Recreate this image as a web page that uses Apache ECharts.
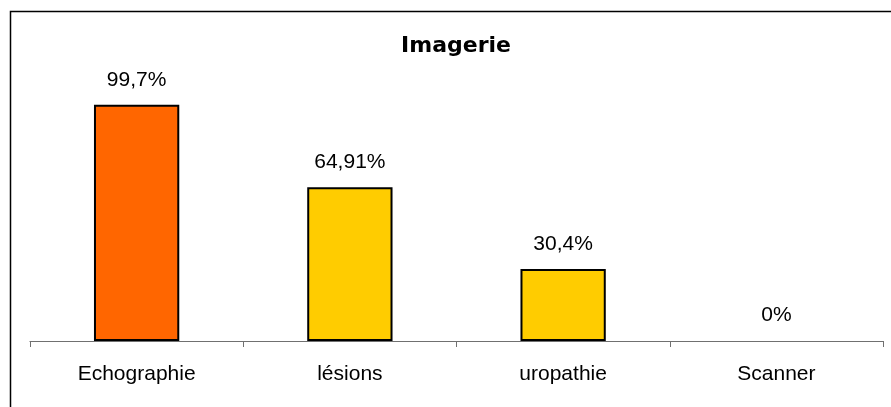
<!DOCTYPE html>
<html>
<head>
<meta charset="utf-8">
<script src="https://cdn.jsdelivr.net/npm/echarts@6/dist/echarts.min.js"></script>
<style>
  html, body { margin: 0; padding: 0; background: #fff; }
  #chart { width: 891px; height: 407px; }
</style>
</head>
<body>
<div id="chart"></div>
<script>
const categories = ['Echographie', 'lésions', 'uropathie', 'Scanner']
const values = [99.7, 64.91, 30.4, 0]
const barColors = ['#FF6600', '#FFCC00', '#FFCC00', '#FFCC00']

const chart = echarts.init(document.getElementById('chart'))
chart.setOption({
  backgroundColor: '#fff',
  animation: false,
  title: {
    text: 'Imagerie',
    left: 451,
    top: 30,
    textAlign: 'center',
    textStyle: { fontFamily: 'DejaVu Sans', fontSize: 22, fontWeight: 'bold', color: '#000' }
  },
  graphic: [{
    type: 'rect',
    shape: { x: 10.5, y: 11.5, width: 900, height: 500 },
    style: { fill: 'none', stroke: '#000', lineWidth: 1.5 },
    silent: true
  }],
  grid: { left: 30, right: 8, top: 104, bottom: 66 },
  xAxis: {
    type: 'category',
    data: categories,
    axisLine: { lineStyle: { color: '#707070', width: 1.2 } },
    axisTick: { show: true, length: 6, lineStyle: { color: '#707070' } },
    axisLabel: { color: '#000', fontFamily: 'Liberation Sans', fontSize: 21, margin: 23 }
  },
  yAxis: {
    type: 'value',
    min: 0,
    max: 100,
    show: false
  },
  series: [{
    type: 'bar',
    barWidth: '40%',
    data: values.map((v, i) => ({
      value: v,
      itemStyle: { color: barColors[i], borderColor: v > 0 ? '#000' : 'transparent', borderWidth: 2 }
    })),
    label: {
      show: true,
      position: 'top',
      distance: 14,
      color: '#000',
      fontFamily: 'Liberation Sans',
      fontSize: 21,
      formatter: p => String(p.value).replace('.', ',') + '%'
    }
  }]
})
</script>
</body>
</html>
